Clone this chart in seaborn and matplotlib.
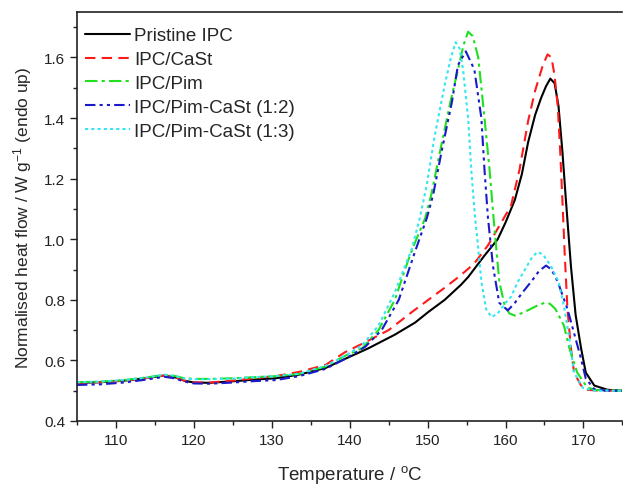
"""DSC melting curves of IPC and its nucleated blends (endo up)."""

import matplotlib

matplotlib.use("Agg")

import matplotlib.pyplot as plt  # noqa: E402
import pandas as pd  # noqa: E402
import seaborn as sns  # noqa: E402

# Values (temperature in degC, heat flow in W/g).
SAMPLES = [
    "Pristine IPC",
    "IPC/CaSt",
    "IPC/Pim",
    "IPC/Pim-CaSt (1:2)",
    "IPC/Pim-CaSt (1:3)",
]

T_PRISTINE = [105, 108, 111, 114, 116.2, 117.5, 118.8, 120, 122, 125, 128, 130.5,
              133.5, 136.9, 139.4, 142.4, 145.8, 148.4, 150.1, 152.2, 154.3, 155.2,
              157.3, 159, 160, 161.2, 162.1, 162.9, 163.8, 164.55, 165.2, 165.75,
              166.3, 166.8, 167.3, 167.75, 168.4, 169.0, 169.7, 170.3, 171.4, 173.1, 175]
H_PRISTINE = [0.526, 0.528, 0.533, 0.542, 0.55, 0.545, 0.533, 0.527, 0.526, 0.531,
              0.537, 0.541, 0.553, 0.575, 0.605, 0.64, 0.685, 0.725, 0.76, 0.80, 0.85,
              0.875, 0.946, 1.0, 1.055, 1.13, 1.215, 1.32, 1.41, 1.465, 1.505, 1.53,
              1.515, 1.44, 1.29, 1.13, 0.91, 0.75, 0.64, 0.56, 0.517, 0.503, 0.50]

T_CAST = [105, 108, 111, 114, 116.2, 117.5, 118.8, 120, 122, 125, 128, 130.5, 133.5,
          136.9, 139.4, 142, 145, 148, 150.1, 152.2, 154.2, 156, 157.75, 159, 160.7,
          161.8, 162.9, 163.8, 164.8, 165.4, 165.9, 166.3, 166.7, 167.0, 167.3, 167.6,
          167.95, 168.4, 168.8, 169.7, 170.5, 172, 175]
H_CAST = [0.526, 0.528, 0.533, 0.542, 0.55, 0.545, 0.533, 0.527, 0.527, 0.533, 0.542,
          0.548, 0.562, 0.585, 0.627, 0.66, 0.70, 0.76, 0.80, 0.84, 0.88, 0.92, 0.98,
          1.035, 1.11, 1.23, 1.39, 1.49, 1.575, 1.61, 1.60, 1.54, 1.44, 1.30, 1.13,
          0.95, 0.77, 0.64, 0.56, 0.517, 0.503, 0.50, 0.50]

T_PIM = [105, 108, 111, 114, 116.2, 117.5, 118.8, 120, 122, 125, 128, 130.5, 133.5,
         136.9, 139.4, 141.6, 143.7, 145.8, 147.5, 148.4, 149.7, 150.5, 151.6, 152.9,
         153.9, 154.6, 155.2, 155.8, 156.5, 157.3, 157.95, 158.5, 159.2, 159.9, 160.5,
         161.2, 162, 162.85, 164, 165.0, 165.7, 166.4, 167.5, 168.2, 169.2, 170.5,
         171.8, 175]
H_PIM = [0.528, 0.530, 0.535, 0.544, 0.552, 0.549, 0.541, 0.539, 0.539, 0.541, 0.545,
         0.548, 0.555, 0.58, 0.615, 0.64, 0.70, 0.80, 0.93, 0.99, 1.07, 1.15, 1.29,
         1.45, 1.56, 1.64, 1.685, 1.67, 1.60, 1.40, 1.23, 1.06, 0.86, 0.78, 0.755,
         0.748, 0.755, 0.765, 0.78, 0.79, 0.787, 0.77, 0.715, 0.64, 0.56, 0.51,
         0.502, 0.50]

T_12 = [105, 108, 111, 114, 116.2, 117.5, 118.8, 120, 122, 125, 128, 130.5, 133.5,
        136.9, 139.4, 142.0, 144.1, 146.3, 148.4, 149.9, 150.7, 151.8, 153.1, 153.9,
        154.9, 156.0, 156.9, 157.3, 157.75, 158.4, 159.2, 160.3, 161.2, 162.2, 163.3,
        164.3, 165.2, 165.9, 166.7, 167.95, 168.8, 169.7, 170.3, 171.4, 173, 175]
H_12 = [0.519, 0.521, 0.527, 0.537, 0.546, 0.541, 0.53, 0.524, 0.523, 0.527, 0.532,
        0.535, 0.548, 0.572, 0.605, 0.645, 0.70, 0.80, 0.96, 1.07, 1.145, 1.29, 1.45,
        1.575, 1.62, 1.56, 1.40, 1.23, 1.07, 0.91, 0.79, 0.765, 0.79, 0.825, 0.86,
        0.895, 0.913, 0.90, 0.86, 0.77, 0.69, 0.605, 0.54, 0.505, 0.50, 0.50]

T_13 = [105, 108, 111, 114, 116.2, 117.5, 118.8, 120, 122, 125, 128, 130.5, 133.5,
        136.9, 139.4, 141.6, 143.7, 145.8, 148.0, 149.0, 149.9, 150.9, 152.2, 153.0,
        153.6, 154.1, 154.55, 155.2, 155.6, 156.1, 156.5, 156.9, 157.5, 158.2, 159.0,
        160.0, 160.7, 161.6, 162.5, 163.4, 164.1, 164.8, 165.8, 166.8, 167.5, 168.2,
        168.8, 169.9, 171.4, 175]
H_13 = [0.528, 0.530, 0.535, 0.544, 0.553, 0.549, 0.54, 0.538, 0.538, 0.54, 0.545,
        0.548, 0.556, 0.582, 0.615, 0.65, 0.715, 0.825, 0.97, 1.07, 1.18, 1.34, 1.51,
        1.60, 1.65, 1.63, 1.56, 1.40, 1.23, 1.07, 0.97, 0.86, 0.77, 0.743, 0.755,
        0.79, 0.81, 0.86, 0.90, 0.94, 0.958, 0.95, 0.913, 0.86, 0.78, 0.67, 0.56,
        0.51, 0.50, 0.50]

CURVES = [(T_PRISTINE, H_PRISTINE), (T_CAST, H_CAST), (T_PIM, H_PIM),
          (T_12, H_12), (T_13, H_13)]

COLORS = ["#000000", "#ff1a1a", "#1ee01e", "#1a1acc", "#33e6f0"]
DASHES = ["", (5, 3), (6, 2, 1.5, 2), (5, 2, 1.5, 2, 1.5, 2), (1.5, 1.5)]


def main() -> None:
    sns.set_style("ticks")
    plt.rcParams["font.family"] = ["Liberation Sans", "DejaVu Sans"]
    plt.rcParams["mathtext.default"] = "regular"

    df = pd.concat(
        [pd.DataFrame({"T": t, "H": h, "sample": s})
         for s, (t, h) in zip(SAMPLES, CURVES)],
        ignore_index=True,
    )

    fig, ax = plt.subplots(figsize=(6.23, 4.85), dpi=100)
    fig.subplots_adjust(left=77 / 623, right=0.999, bottom=63 / 485, top=1 - 13 / 485)

    sns.lineplot(
        df, x="T", y="H", hue="sample", style="sample",
        hue_order=SAMPLES, style_order=SAMPLES,
        palette=dict(zip(SAMPLES, COLORS)), dashes=dict(zip(SAMPLES, DASHES)),
        estimator=None, linewidth=1.5, ax=ax,
    )

    ax.set_xlim(105, 175)
    ax.set_ylim(0.4, 1.75)
    ax.set_xticks(range(110, 171, 10))
    ax.set_xticks(range(105, 176, 5), minor=True)
    ax.set_yticks([0.4, 0.6, 0.8, 1.0, 1.2, 1.4, 1.6])
    ax.set_yticks([0.5, 0.7, 0.9, 1.1, 1.3, 1.5, 1.7], minor=True)
    ax.yaxis.set_major_formatter(plt.FormatStrFormatter("%.1f"))
    ax.tick_params(which="major", direction="out", length=5, width=1,
                   labelsize=11, colors="#222222")
    ax.tick_params(which="minor", direction="out", length=3, width=1, colors="#222222")
    for side in ("left", "bottom", "top"):
        ax.spines[side].set_linewidth(1.2)
        ax.spines[side].set_color("#222222")
    ax.spines["right"].set_visible(False)

    ax.set_xlabel("Temperature / $^{o}$C", fontsize=13.5, labelpad=12)
    ax.set_ylabel("Normalised heat flow / W g$^{-1}$ (endo up)", fontsize=12.5,
                  labelpad=7)

    handles, labels = ax.get_legend_handles_labels()
    ax.legend(handles, labels, loc="upper left",
              bbox_to_anchor=(-0.009, 1 - 2 / 409),
              frameon=False, fontsize=13.5, handlelength=2.4, handletextpad=0.2,
              labelspacing=0.36, borderaxespad=0.3)

    fig.savefig("out.png", dpi=100)


if __name__ == "__main__":
    main()
